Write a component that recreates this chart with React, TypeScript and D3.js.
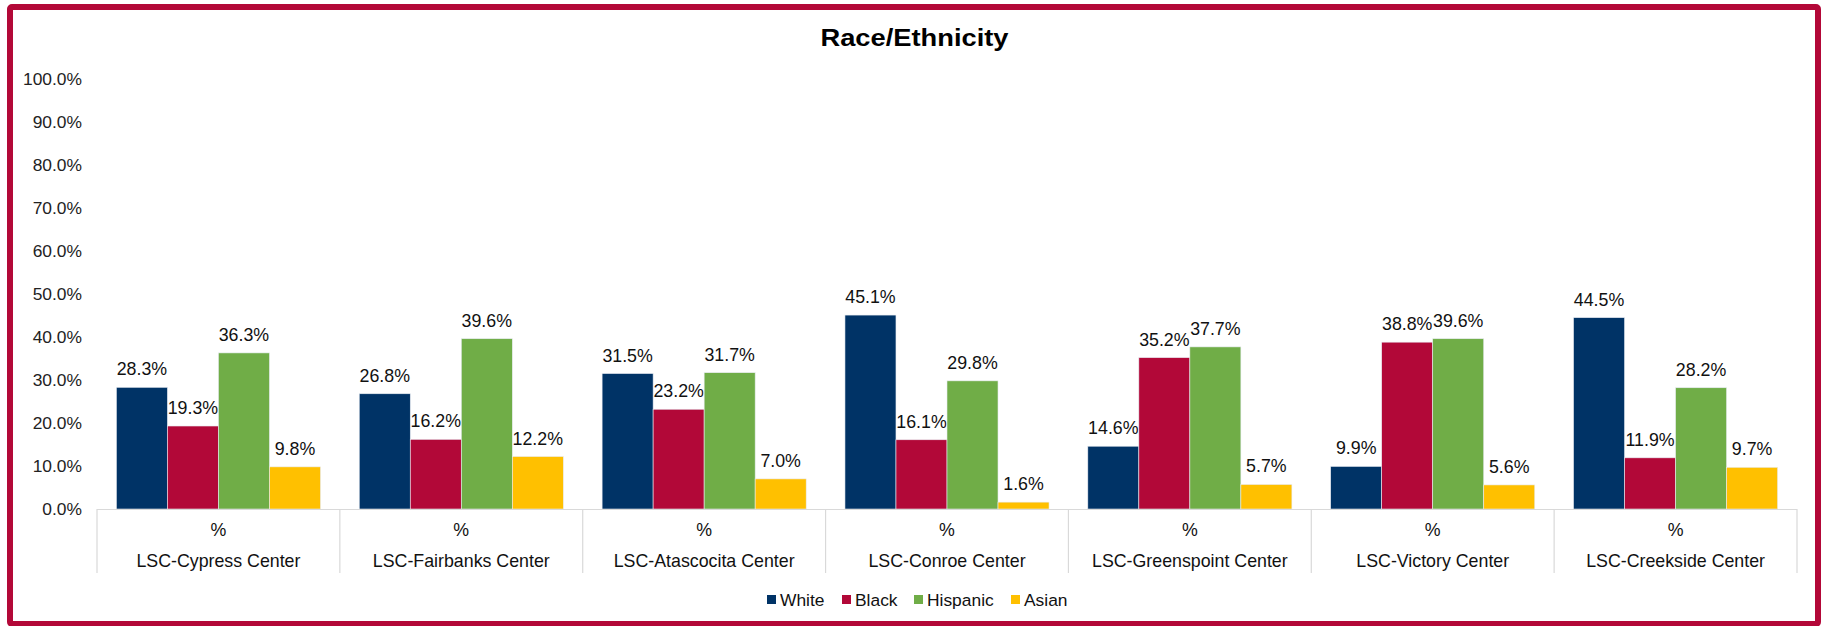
import React from "react";
import * as d3 from "d3";

const categories = [
  "LSC-Cypress Center",
  "LSC-Fairbanks Center",
  "LSC-Atascocita Center",
  "LSC-Conroe Center",
  "LSC-Greenspoint Center",
  "LSC-Victory Center",
  "LSC-Creekside Center",
];
const seriesNames = ["White", "Black", "Hispanic", "Asian"];
const white = [28.3, 26.8, 31.5, 45.1, 14.6, 9.9, 44.5];
const black = [19.3, 16.2, 23.2, 16.1, 35.2, 38.8, 11.9];
const hispanic = [36.3, 39.6, 31.7, 29.8, 37.7, 39.6, 28.2];
const asian = [9.8, 12.2, 7.0, 1.6, 5.7, 5.6, 9.7];
const yTicks = [0, 10, 20, 30, 40, 50, 60, 70, 80, 90, 100];
const colors = ["#003366", "#B20838", "#70AD47", "#FFC000"];

const W = 1827;
const H = 626;
const FONT = "'Liberation Sans', Arial, sans-serif";

export default function App() {
  const seriesValues = [white, black, hispanic, asian];
  const x = d3.scaleBand<string>().domain(categories).range([97, 1797]).paddingInner(0).paddingOuter(0);
  const inner = d3
    .scaleBand<string>()
    .domain(seriesNames)
    .range([0, x.bandwidth()])
    .paddingOuter(0.38)
    .paddingInner(0);
  const y = d3.scaleLinear().domain([0, 100]).range([509, 79]);
  const bounds = categories.map((c) => x(c) as number).concat([1797]);

  const legendItems = [
    { name: "White", x: 767 },
    { name: "Black", x: 842 },
    { name: "Hispanic", x: 914 },
    { name: "Asian", x: 1011 },
  ];

  return (
    <svg
      width={W}
      height={H}
      style={{ position: "absolute", left: 0, top: 0, background: "#fff" }}
      fontFamily={FONT}
    >
      <rect x={0} y={0} width={W} height={H} fill="#fff" />
      <rect x={10} y={7} width={1808} height={617} fill="#fff" stroke="#B30838" strokeWidth={6} rx={2} />
      <text
        x={914.5}
        y={46}
        textAnchor="middle"
        fontSize={24}
        fontWeight="bold"
        fill="#000"
        textLength={188}
        lengthAdjust="spacingAndGlyphs"
      >
        Race/Ethnicity
      </text>
      {yTicks.map((t) => (
        <text key={t} x={82} y={y(t)} dy="0.35em" textAnchor="end" fontSize={17.4} fill="#222">
          {d3.format(".1f")(t) + "%"}
        </text>
      ))}
      {categories.map((c, ci) => (
        <g key={c} transform={`translate(${x(c)},0)`}>
          {seriesNames.map((s, si) => {
            const v = seriesValues[si][ci];
            const bx = inner(s) as number;
            const bw = inner.bandwidth();
            return (
              <g key={s}>
                <rect x={bx} y={y(v)} width={bw} height={y(0) - y(v)} fill={colors[si]} stroke="#e8ecf2" strokeWidth={0.6} />
                <text x={bx + bw / 2} y={y(v) - 12} textAnchor="middle" fontSize={17.8} fill="#111">
                  {d3.format(".1f")(v) + "%"}
                </text>
              </g>
            );
          })}
          <text x={x.bandwidth() / 2} y={536} textAnchor="middle" fontSize={17.8} fill="#111">
            %
          </text>
          <text x={x.bandwidth() / 2} y={567} textAnchor="middle" fontSize={17.8} fill="#111">
            {c}
          </text>
        </g>
      ))}
      <line x1={97} x2={1797} y1={509.5} y2={509.5} stroke="#d9d9d9" strokeWidth={1.2} />
      {bounds.map((b, i) => (
        <line key={i} x1={b} x2={b} y1={509} y2={573} stroke="#d9d9d9" strokeWidth={1.2} />
      ))}
      {legendItems.map((l, i) => (
        <g key={l.name}>
          <rect x={l.x} y={595} width={9} height={9} fill={colors[i]} />
          <text x={l.x + 13} y={599.5} dy="0.35em" fontSize={17.4} fill="#111">
            {l.name}
          </text>
        </g>
      ))}
    </svg>
  );
}
